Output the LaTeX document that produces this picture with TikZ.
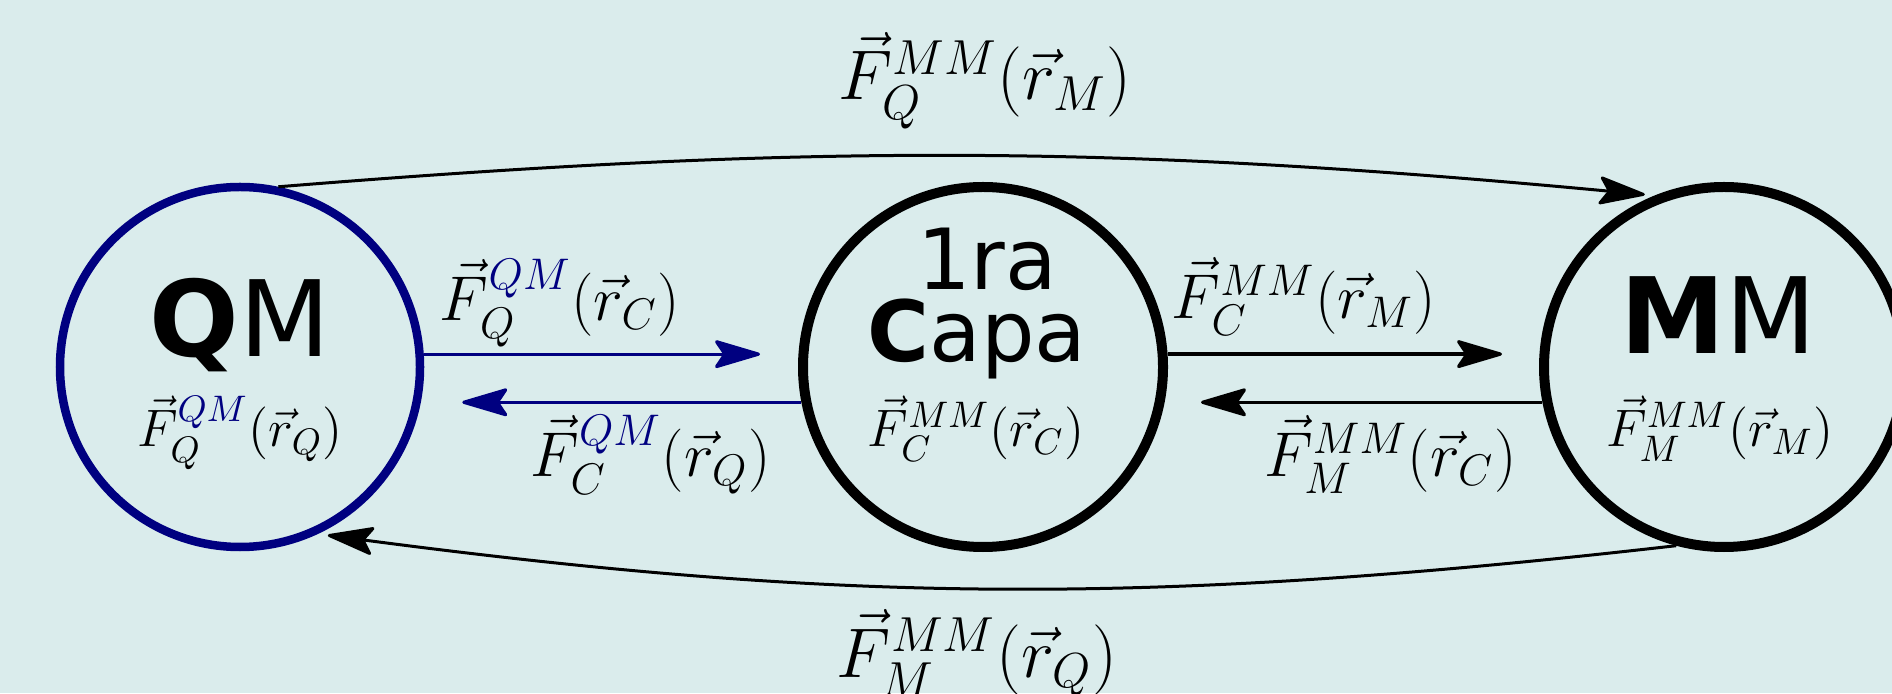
\documentclass[tikz,border=0pt]{standalone}
\usepackage{fix-cm}
\usepackage{amsmath}
\usepackage{fontspec}
\newfontfamily\verasans{DejaVu Sans}
\usetikzlibrary{arrows.meta,positioning,calc}
\definecolor{bgcyan}{RGB}{218,236,236}
\definecolor{qmblue}{RGB}{0,0,128}
\newcommand{\qmsup}{{\color{qmblue}QM}}

\begin{document}
\begin{tikzpicture}[
  x=1cm,y=1cm,
  circ/.style={draw, circle, line width=0.1cm, minimum size=3.6cm, inner sep=0pt},
  cname/.style={anchor=base, inner sep=0pt, font=\verasans\fontsize{30}{30}\selectfont},
  capaname/.style={anchor=base, inner sep=0pt, font=\verasans\fontsize{24}{20}\selectfont},
  fin/.style={anchor=base, inner sep=0pt, font=\fontsize{15}{18}\selectfont},
  flab/.style={anchor=base, inner sep=0pt, text=black, font=\fontsize{18}{22}\selectfont},
  fbig/.style={anchor=base, inner sep=0pt, font=\fontsize{20}{24}\selectfont},
  arr/.style={-{Stealth[length=0.51cm,width=0.30cm,inset=0.10cm,round]}, line width=0.032cm}
]
\useasboundingbox (0,0) rectangle (18.92,6.93);
\fill[bgcyan] (0,0) rectangle (18.92,6.93);
\clip (0,0) rectangle (18.92,6.93);

% the three regions
\node[circ, draw=qmblue, line width=0.085cm] (qm) at (2.40,3.26) {};
\node[circ] (capa) at (9.83,3.26) {};
\node[circ] (mm) at (17.24,3.26) {};

\node[cname] (qmtxt) at ([yshift=0.10cm]qm.center) {\textbf{Q}M};
\node[capaname] (capanum) at ([xshift=0.04cm,yshift=0.77cm]capa.center) {1ra};
\node[capaname] (capatxt) at ([xshift=-0.06cm,yshift=0.05cm]capa.center) {\textbf{C}apa};
\node[cname] (mmtxt) at ([xshift=-0.06cm,yshift=0.13cm]mm.center) {\textbf{M}M};

\node[fin] (qmf) at ([yshift=-0.80cm]qm.center) {$\vec{F}_Q^{\qmsup}(\vec{r}_Q)$};
\node[fin] (capaf) at ([xshift=-0.07cm,yshift=-0.80cm]capa.center) {$\vec{F}_C^{MM}(\vec{r}_C)$};
\node[fin] (mmf) at ([xshift=-0.04cm,yshift=-0.80cm]mm.center) {$\vec{F}_M^{MM}(\vec{r}_M)$};

% forces between neighbours
\draw[arr, qmblue, shorten >=0.38cm] (qm.4) -- (qm.4 -| capa.west)
  node[flab, pos=0.364, yshift=0.34cm] (fqc) {$\vec{F}_Q^{\qmsup}(\vec{r}_C)$};
\draw[arr, qmblue, shorten >=0.38cm] (capa.191) -- (capa.191 -| qm.east)
  node[flab, pos=0.40, yshift=-0.74cm] (fcq) {$\vec{F}_C^{\qmsup}(\vec{r}_Q)$};
\draw[arr, shorten >=0.37cm] (capa.4) -- (capa.4 -| mm.west)
  node[flab, pos=0.367, yshift=0.36cm] (fcm) {$\vec{F}_C^{MM}(\vec{r}_M)$};
\draw[arr, shorten >=0.33cm] (mm.191) -- (mm.191 -| capa.east)
  node[flab, pos=0.406, yshift=-0.74cm] (fmc) {$\vec{F}_M^{MM}(\vec{r}_C)$};

% long range forces
\draw[arr, line width=0.03cm, shorten >=0.1cm] (qm.78) to[bend left=5] (mm.112);
\draw[arr, line width=0.03cm, shorten >=0.1cm] (mm.255) to[bend left=7] (qm.295);
\node[fbig] (fqm) at (9.85,5.93) {$\vec{F}_Q^{MM}(\vec{r}_M)$};
\node[fbig] (fmq) at (9.77,0.16) {$\vec{F}_M^{MM}(\vec{r}_Q)$};
\end{tikzpicture}
\end{document}
